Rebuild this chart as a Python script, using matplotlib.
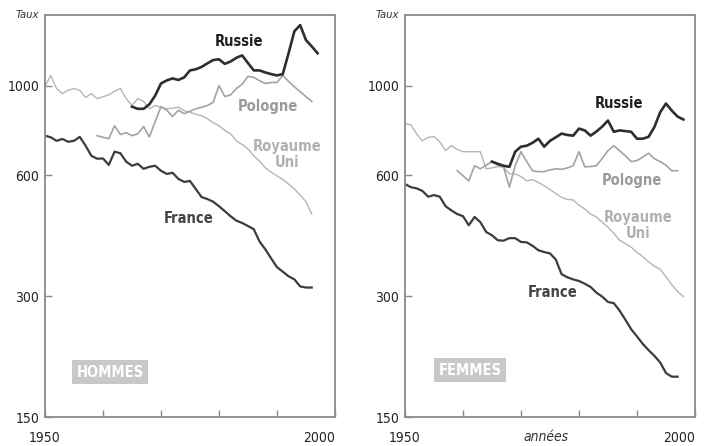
import matplotlib
matplotlib.use('Agg')
import matplotlib.pyplot as plt

plt.rcParams['font.family'] = ['DejaVu Sans']
plt.rcParams['font.stretch'] = 'condensed'

# ---- hommes ----
h_france_years = list(range(1950, 1997))
h_france = [752, 745, 730, 738, 726, 730, 747, 710, 670, 659, 660, 636, 686, 680, 648, 633,
            640, 622, 629, 633, 615, 604, 608, 587, 577, 580, 554, 529, 523, 515, 502, 488,
            474, 462, 456, 448, 440, 410, 392, 372, 354, 345, 336, 330, 317, 315, 315]

h_uk_years = list(range(1950, 1997))
h_uk = [997, 1062, 985, 957, 975, 985, 975, 936, 957, 930, 940, 950, 970, 985, 930, 894,
        930, 915, 877, 894, 885, 877, 880, 885, 868, 860, 850, 843, 829, 810, 796, 775,
        760, 730, 715, 697, 670, 650, 625, 610, 597, 585, 570, 554, 535, 515, 480]

h_pol_years = list(range(1959, 1997))
h_pol = [752, 745, 739, 796, 757, 765, 752, 760, 792, 747, 815, 888, 870, 839, 870, 853,
         865, 877, 885, 894, 910, 1002, 941, 950, 985, 1010, 1056, 1050, 1030, 1014, 1020,
         1020, 1062, 1026, 995, 968, 940, 915]

h_rus_years = list(range(1965, 1998))
h_rus = [888, 877, 877, 900, 946, 1014, 1032, 1044, 1035, 1050, 1093, 1100, 1115, 1138,
         1160, 1165, 1135, 1150, 1175, 1191, 1140, 1093, 1093, 1080, 1070, 1062, 1070, 1206,
         1368, 1417, 1300, 1254, 1206]

# ---- femmes ----
f_france_years = list(range(1950, 1998))
f_france = [570, 560, 556, 548, 530, 535, 530, 502, 490, 480, 474, 450, 472, 458, 433, 425,
            413, 412, 418, 418, 409, 408, 400, 390, 386, 383, 370, 340, 334, 330, 327, 322,
            316, 306, 299, 290, 288, 276, 262, 248, 238, 228, 220, 213, 205, 193, 189, 189]

f_uk_years = list(range(1950, 1999))
f_uk = [806, 800, 760, 730, 745, 748, 726, 690, 710, 695, 686, 686, 686, 686, 622, 625,
        630, 628, 604, 604, 595, 580, 585, 575, 564, 552, 540, 528, 522, 520, 505, 494,
        480, 472, 458, 445, 430, 413, 405, 397, 385, 376, 365, 356, 350, 335, 320, 308, 299]

f_pol_years = list(range(1959, 1998))
f_pol = [615, 598, 580, 633, 622, 635, 648, 635, 629, 560, 633, 686, 648, 615, 612, 612,
         618, 622, 620, 625, 633, 686, 629, 630, 633, 660, 690, 710, 690, 670, 648, 652,
         665, 680, 659, 648, 635, 615, 615]

f_rus_years = list(range(1965, 1999))
f_rus = [648, 640, 633, 629, 686, 706, 710, 722, 739, 706, 730, 745, 761, 755, 752, 783,
         775, 752, 770, 792, 820, 769, 775, 772, 769, 739, 739, 747, 790, 860, 904, 868,
         839, 825]

ytick_vals = [150, 300, 600, 1000]
ytick_labels = ['150', '300', '600', '1000']

dark = '#2e2e2e'
gray_pol = '#a3a3a3'
gray_uk = '#b5b5b5'
spine_col = '#8a8a8a'


def panel(ax, fr_x, fr, uk_x, uk, pl_x, pl, ru_x, ru, labels, box_text):
    ax.plot(uk_x, uk, color=gray_uk, lw=1.0)
    ax.plot(pl_x, pl, color=gray_pol, lw=1.2)
    ax.plot(fr_x, fr, color='#3c3c3c', lw=1.6)
    ax.plot(ru_x, ru, color=dark, lw=1.9)
    ax.set_yscale('log')
    ax.set_xlim(1950, 2000)
    ax.set_ylim(150, 1500)
    ax.set_yticks(ytick_vals)
    ax.set_yticklabels(ytick_labels)
    ax.minorticks_off()
    ax.set_xticks([1950, 1960, 1970, 1980, 1990, 2000])
    ax.set_xticklabels(['1950', '', '', '', '', '2000'])
    ax.get_xticklabels()[-1].set_ha('right')
    ax.tick_params(direction='in', length=5, width=1, color=spine_col,
                   labelsize=10, labelcolor='#222222', pad=4)
    ax.tick_params(axis='x', pad=10)
    for s in ax.spines.values():
        s.set_color(spine_col)
        s.set_linewidth(1.3)
    ax.text(-0.06, 1.0, 'Taux', transform=ax.transAxes, ha='center', va='center',
            style='italic', fontsize=8, color='#333333')
    (rx, ry), (px, py), (ux, uy), (fx, fy), (bx, by) = labels
    kw = dict(ha='center', va='center', fontsize=10.5, fontweight='bold')
    ax.text(rx, ry, 'Russie', color='#1e1e1e', **kw)
    ax.text(px, py, 'Pologne', color='#9a9a9a', **kw)
    ax.text(ux, uy, 'Royaume\nUni', color='#b0b0b0', linespacing=1.1, **kw)
    ax.text(fx, fy, 'France', color='#444444', **kw)
    ax.text(bx, by, box_text, ha='center', va='center', fontsize=10.5, fontweight='bold',
            color='white',
            bbox=dict(boxstyle='square,pad=0.3', facecolor='#c8c8c8', edgecolor='none'))


fig = plt.figure(figsize=(7.07, 4.46), dpi=100)
ax1 = fig.add_axes([0.0636, 0.065, 0.4102, 0.901])
ax2 = fig.add_axes([0.5728, 0.065, 0.4102, 0.901])

panel(ax1, h_france_years, h_france, h_uk_years, h_uk, h_pol_years, h_pol,
      h_rus_years, h_rus,
      [(1983.4, 1291), (1988.4, 888), (1991.7, 674), (1974.8, 467), (1961.2, 194)],
      'HOMMES')
panel(ax2, f_france_years, f_france, f_uk_years, f_uk, f_pol_years, f_pol,
      f_rus_years, f_rus,
      [(1986.9, 904), (1989.1, 580), (1990.2, 450), (1975.5, 306), (1961.2, 196)],
      'FEMMES')
ax2.text(0.485, -0.05, 'années', transform=ax2.transAxes, ha='center', va='center',
         style='italic', fontsize=10, color='#333333')

fig.savefig('out.png', dpi=100)
